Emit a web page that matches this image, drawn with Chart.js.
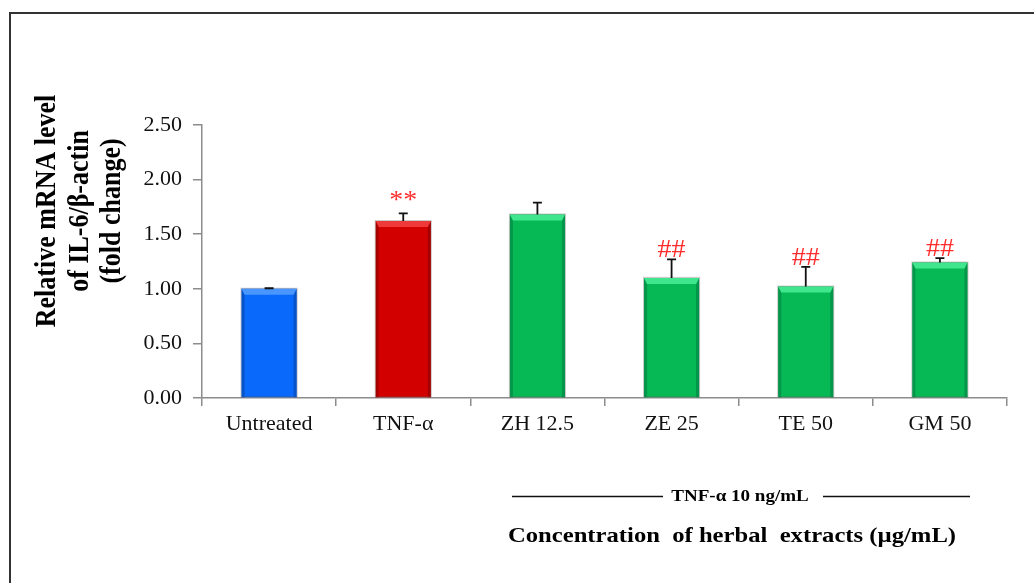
<!DOCTYPE html>
<html>
<head>
<meta charset="utf-8">
<script src="https://cdn.jsdelivr.net/npm/chart.js@4.4.1/dist/chart.umd.min.js"></script>
<style>
  html, body { margin: 0; padding: 0; background: #fff; }
  #wrap { width: 1034px; height: 583px; position: relative; }
</style>
</head>
<body>
<div id="wrap"><canvas id="c" width="1034" height="583"></canvas></div>
<script>
// Groups and measured IL-6 expression (fold change vs. untreated)
const categories = ['Untreated', 'TNF-α', 'ZH 12.5', 'ZE 25', 'TE 50', 'GM 50'];
const meanValues = [1.00, 1.62, 1.68, 1.10, 1.02, 1.24];
const errorValues = [0.005, 0.07, 0.11, 0.17, 0.18, 0.04];
const significance = ['', '**', '', '##', '##', '##'];
const yTickValues = [0, 0.5, 1.0, 1.5, 2.0, 2.5];

const yTitleLines = ['Relative mRNA level', 'of IL-6/β-actin', '(fold change)'];
const bracketLabel = 'TNF-α 10 ng/mL';
const xTitle = 'Concentration  of herbal  extracts (µg/mL)';

// Bar palette: [fill, top bevel, side bevel]
const BLUE = ['#0869fb', '#4a96ff', '#0753c9'];
const RED = ['#d30000', '#ef3a3a', '#a50000'];
const GREEN = ['#07b955', '#40e68d', '#04964a'];
const barPalette = [BLUE, RED, GREEN, GREEN, GREEN, GREEN];

const SERIF = '"Liberation Serif", "Times New Roman", serif';
const SX = 1.12; // horizontal stretch for the annotation text

function stretchedText(ctx, text, x, y, opts) {
  ctx.save();
  ctx.translate(x, y);
  ctx.scale(SX, 1);
  if (opts.rotate) ctx.rotate(opts.rotate);
  ctx.font = opts.font;
  ctx.fillStyle = opts.color || '#000';
  ctx.textAlign = opts.align || 'center';
  ctx.textBaseline = opts.baseline || 'middle';
  ctx.fillText(text, 0, 0);
  ctx.restore();
}

const figureDecor = {
  id: 'figureDecor',
  beforeDraw(chart) {
    const ctx = chart.ctx;
    ctx.save();
    ctx.fillStyle = '#fff';
    ctx.fillRect(0, 0, chart.width, chart.height);
    // panel frame (left and top edges)
    ctx.strokeStyle = '#333';
    ctx.lineWidth = 2;
    ctx.beginPath();
    ctx.moveTo(10, chart.height);
    ctx.lineTo(10, 13);
    ctx.lineTo(chart.width, 13);
    ctx.stroke();
    ctx.restore();
  },
  afterDatasetsDraw(chart) {
    const ctx = chart.ctx;
    const meta = chart.getDatasetMeta(0);
    const yScale = chart.scales.y;
    meta.data.forEach((bar, i) => {
      const pal = barPalette[i];
      const half = bar.width / 2;
      const x0 = bar.x - half, x1 = bar.x + half;
      const top = bar.y, base = bar.base;
      const tb = 6, sb = 3;
      ctx.save();
      // side bevels
      ctx.fillStyle = pal[2];
      ctx.beginPath();
      ctx.moveTo(x0, top); ctx.lineTo(x0 + sb, top + tb); ctx.lineTo(x0 + sb, base); ctx.lineTo(x0, base);
      ctx.closePath(); ctx.fill();
      ctx.beginPath();
      ctx.moveTo(x1, top); ctx.lineTo(x1 - sb, top + tb); ctx.lineTo(x1 - sb, base); ctx.lineTo(x1, base);
      ctx.closePath(); ctx.fill();
      // top bevel
      ctx.fillStyle = pal[1];
      ctx.beginPath();
      ctx.moveTo(x0, top); ctx.lineTo(x1, top); ctx.lineTo(x1 - sb, top + tb); ctx.lineTo(x0 + sb, top + tb);
      ctx.closePath(); ctx.fill();
      // soft outline
      ctx.strokeStyle = 'rgba(90,90,90,0.35)';
      ctx.lineWidth = 1;
      ctx.strokeRect(x0 - 0.5, top - 0.5, bar.width + 1, base - top);
      ctx.restore();

      // upper error bar
      const capY = yScale.getPixelForValue(meanValues[i] + errorValues[i]);
      ctx.save();
      ctx.strokeStyle = '#111';
      ctx.lineWidth = 1.8;
      ctx.beginPath();
      ctx.moveTo(bar.x, top);
      ctx.lineTo(bar.x, capY);
      ctx.moveTo(bar.x - 4.5, capY);
      ctx.lineTo(bar.x + 4.5, capY);
      ctx.stroke();
      ctx.restore();

      // significance marks
      const mark = significance[i];
      if (mark === '**') {
        stretchedText(ctx, mark, bar.x, capY - 5, { font: '25px ' + SERIF, color: '#ff2d2d', baseline: 'alphabetic' });
      } else if (mark) {
        stretchedText(ctx, mark, bar.x, capY - 2, { font: '25px ' + SERIF, color: '#ff2d2d', baseline: 'alphabetic' });
      }
    });
  },
  afterDraw(chart) {
    const ctx = chart.ctx;
    // y-axis title, three stacked lines
    const lineX = [47, 80, 112];
    yTitleLines.forEach((t, k) => {
      stretchedText(ctx, t, lineX[k], 211, { font: 'bold 26px ' + SERIF, rotate: -Math.PI / 2 });
    });
    // treatment bracket
    ctx.save();
    ctx.strokeStyle = '#111';
    ctx.lineWidth = 1.3;
    ctx.beginPath();
    ctx.moveTo(512, 496.5); ctx.lineTo(663, 496.5);
    ctx.moveTo(823, 496.5); ctx.lineTo(970, 496.5);
    ctx.stroke();
    ctx.restore();
    stretchedText(ctx, bracketLabel, 740, 497, { font: 'bold 17px ' + SERIF });
    // x-axis title
    stretchedText(ctx, xTitle, 732, 536, { font: 'bold 22px ' + SERIF });
  }
};

new Chart(document.getElementById('c'), {
  type: 'bar',
  data: {
    labels: categories,
    datasets: [{
      data: meanValues,
      backgroundColor: barPalette.map(p => p[0]),
      borderWidth: 0,
      barPercentage: 0.41,
      categoryPercentage: 1.0
    }]
  },
  options: {
    responsive: false,
    animation: false,
    events: [],
    layout: { padding: { left: 0, top: 125, right: 27, bottom: 0 } },
    plugins: { legend: { display: false }, tooltip: { enabled: false } },
    scales: {
      x: {
        offset: true,
        grid: { offset: true, drawOnChartArea: false, drawTicks: true, tickLength: 8, color: '#8c8c8c', lineWidth: 1.5 },
        border: { color: '#8c8c8c', width: 1.5 },
        ticks: { font: { family: SERIF, size: 22 }, color: '#111', padding: 5, maxRotation: 0, autoSkip: false },
        afterFit(s) { s.height = 185; }
      },
      y: {
        min: 0,
        max: 2.5,
        afterBuildTicks(s) { s.ticks = yTickValues.map(v => ({ value: v })); },
        grid: { drawOnChartArea: false, drawTicks: true, tickLength: 9, color: '#8c8c8c', lineWidth: 1.5 },
        border: { color: '#8c8c8c', width: 1.5 },
        ticks: { font: { family: SERIF, size: 22 }, color: '#111', padding: 11, callback: v => Number(v).toFixed(2) },
        afterFit(s) { s.width = 202; }
      }
    }
  },
  plugins: [figureDecor]
});
</script>
</body>
</html>
